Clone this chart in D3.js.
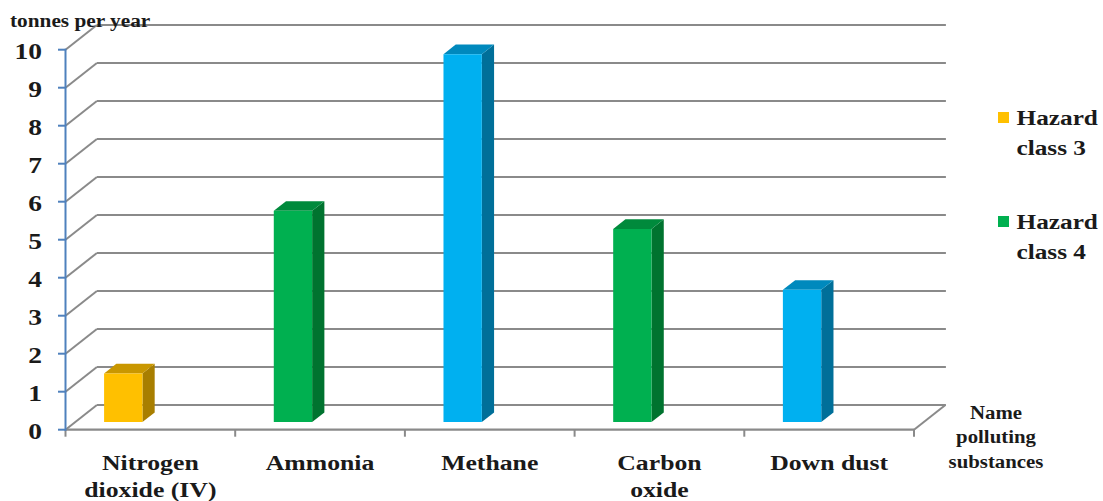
<!DOCTYPE html>
<html>
<head>
<meta charset="utf-8">
<script src="https://cdn.jsdelivr.net/npm/d3@7"></script>
<style>
  html, body { margin: 0; padding: 0; background: #fff; }
  svg { display: block; }
  text { font-family: "Liberation Serif", "Times New Roman", serif; font-weight: bold; fill: #1a1a1a; }
</style>
</head>
<body>
<svg id="chart" width="1103" height="501"></svg>
<script>
// Emissions of pollutants, tonnes per year
const categories = ["Nitrogen dioxide (IV)", "Ammonia", "Methane", "Carbon oxide", "Down dust"];
const categoryLines = [["Nitrogen", "dioxide (IV)"], ["Ammonia"], ["Methane"], ["Carbon", "oxide"], ["Down dust"]];
const values = [1.28, 5.56, 9.68, 5.08, 3.48];
const groups = ["class3", "class4", "other", "class4", "other"];
const yTicks = [0, 1, 2, 3, 4, 5, 6, 7, 8, 9, 10];
const legendLabels = [["Hazard", "class 3"], ["Hazard", "class 4"]];
const yTitle = "tonnes per year";
const xTitleLines = ["Name", "polluting", "substances"];

const palette = {
  class3: { front: "#FFC000", side: "#A87E00", top: "#C99700" },
  class4: { front: "#00B050", side: "#00732F", top: "#008A3C" },
  other:  { front: "#00B0F0", side: "#006F99", top: "#0089BD" }
};

// Text is set slightly condensed-wide, as in the original layout
const TEXT_STRETCH = 1.17;

const svg = d3.select("#chart");

// Front plane scales
const y = d3.scaleLinear().domain([0, 10]).range([429.7, 49.7]);
const x = d3.scaleBand().domain(categories).range([65.5, 914]).padding(0);

// Oblique depth vector of the 3D box
const depth = { dx: 31.4, dy: -24.7 };
const proj = (px, py, f) => [px + depth.dx * f, py + depth.dy * f];

function label(px, py, size, lines, anchor, lineHeight) {
  const t = svg.append("text")
    .attr("transform", `translate(${px},${py}) scale(${TEXT_STRETCH},1)`)
    .attr("text-anchor", anchor).attr("font-size", size);
  lines.forEach((line, j) => {
    t.append("tspan").attr("x", 0).attr("y", j * (lineHeight || 0)).text(line);
  });
  return t;
}

const gridColor = "#8a8a8a";
const g = svg.append("g");

// Back wall gridlines and left wall diagonals
yTicks.forEach(t => {
  const [bx, by] = proj(x.range()[0], y(t), 1);
  const [ex] = proj(x.range()[1], y(t), 1);
  g.append("line").attr("x1", bx).attr("y1", by).attr("x2", ex + 0.5).attr("y2", by)
    .attr("stroke", gridColor).attr("stroke-width", 2.2);
  g.append("line").attr("x1", x.range()[0]).attr("y1", y(t)).attr("x2", bx).attr("y2", by)
    .attr("stroke", gridColor).attr("stroke-width", 2);
});

// Floor front edge and right floor edge
const fx1 = x.range()[1];
const [rbx, rby] = proj(fx1, y(0), 1);
g.append("line").attr("x1", x.range()[0]).attr("y1", y(0)).attr("x2", fx1).attr("y2", y(0))
  .attr("stroke", gridColor).attr("stroke-width", 2.2);
g.append("line").attr("x1", fx1).attr("y1", y(0)).attr("x2", rbx).attr("y2", rby)
  .attr("stroke", gridColor).attr("stroke-width", 2);

// Category tick marks on floor edge
const tickXs = categories.map(c => x(c)).concat([x.range()[1]]);
tickXs.forEach(tx => {
  g.append("line").attr("x1", tx).attr("y1", y(0)).attr("x2", tx).attr("y2", y(0) + 7)
    .attr("stroke", gridColor).attr("stroke-width", 2);
});

// Value axis
const axisColor = "#4F81BD";
g.append("line").attr("x1", x.range()[0]).attr("y1", y(0) + 1).attr("x2", x.range()[0]).attr("y2", y(10) - 1)
  .attr("stroke", axisColor).attr("stroke-width", 2);
yTicks.forEach(t => {
  g.append("line").attr("x1", x.range()[0] - 7.5).attr("y1", y(t)).attr("x2", x.range()[0]).attr("y2", y(t))
    .attr("stroke", axisColor).attr("stroke-width", 2);
  label(42, y(t) + 9.5, 23.5, [String(t)], "end");
});

// 3D bars
const f0 = 0.31, f1 = 0.70;
const barOffset = 0.170, barWidth = 0.226;
const bars = svg.append("g");
categories.forEach((c, i) => {
  const col = palette[groups[i]];
  const left = x(c) + x.bandwidth() * barOffset;
  const right = left + x.bandwidth() * barWidth;
  const base = y(0), top = y(values[i]);
  const A = proj(left, top, f0), B = proj(right, top, f0), C = proj(right, base, f0), D = proj(left, base, f0);
  const B2 = proj(right, top, f1), C2 = proj(right, base, f1), A2 = proj(left, top, f1);
  const pts = arr => arr.map(p => p.join(",")).join(" ");
  bars.append("polygon").attr("points", pts([B, B2, C2, C])).attr("fill", col.side);
  bars.append("polygon").attr("points", pts([A, A2, B2, B])).attr("fill", col.top);
  bars.append("polygon").attr("points", pts([A, B, C, D])).attr("fill", col.front);
});

// Category labels
categories.forEach((c, i) => {
  const cx = x(c) + x.bandwidth() / 2;
  label(cx, 469.5, 22, categoryLines[i], "middle", 28);
});

// Axis titles
label(10, 27, 18.2, [yTitle], "start");
label(996, 418.5, 17.8, xTitleLines, "middle", 25);

// Legend
const legendItems = [palette.class3.front, palette.class4.front];
legendItems.forEach((color, i) => {
  const yy = 112 + i * 104;
  svg.append("rect").attr("x", 998).attr("y", yy).attr("width", 11).attr("height", 11).attr("fill", color);
  label(1016.5, yy + 13, 21.6, legendLabels[i], "start", 30.5);
});
</script>
</body>
</html>
